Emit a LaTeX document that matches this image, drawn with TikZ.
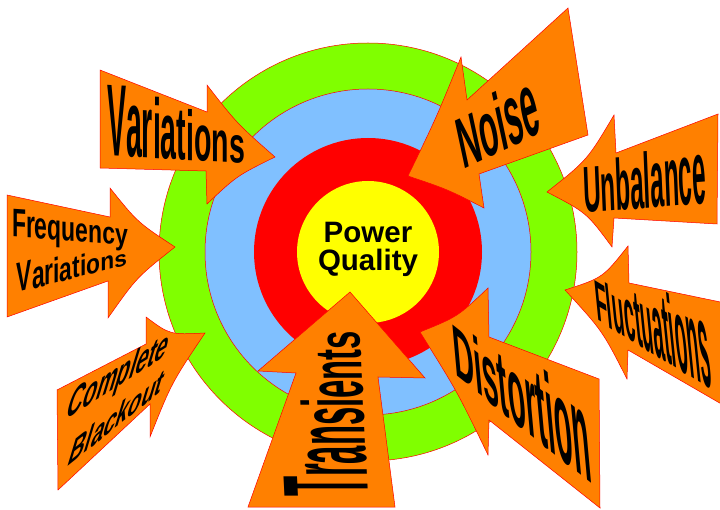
\documentclass[tikz,border=0pt]{standalone}
\usepackage{fontspec}
\setmainfont{Liberation Sans}
\usetikzlibrary{calc}
\definecolor{pqorange}{HTML}{FF8000}
\definecolor{pqgreen}{HTML}{80FF00}
\definecolor{pqblue}{HTML}{80C0FF}
\definecolor{pqred}{HTML}{FF0000}
\definecolor{pqyellow}{HTML}{FFFF00}
\newcommand\pwfont{\bfseries\fontsize{10}{12}\selectfont}
\newcount\pwacc
\newcount\pwtot
\def\pwname{w}
% #1 letter/width list, #2 #3 baseline start (px), #4 #5 baseline end, #6 #7 cap height start/end, #8 #9 up vector (px frame)
\newcommand\pword[9]{%
  \global\pwtot=0
  \foreach \pwl/\pww in {#1}{\global\advance\pwtot by \pww\relax}%
  \global\pwacc=0
  \foreach \pwl/\pww [count=\pwi] in {#1}{%
    \pgfmathsetmacro\pwt{(\the\pwacc+0.5*\pww)/\the\pwtot}%
    \pgfmathsetmacro\pwx{#2+\pwt*(#4-(#2))}%
    \pgfmathsetmacro\pwy{#3+\pwt*(#5-(#3))}%
    \pgfmathsetmacro\pwh{(#6+\pwt*(#7-(#6)))/7.16}%
    \pgfmathsetmacro\pwa{(#4-(#2))/(\the\pwtot/100)}%
    \pgfmathsetmacro\pwb{-(#5-(#3))/(\the\pwtot/100)}%
    \pgfmathsetmacro\pwc{(#8)*\pwh}%
    \pgfmathsetmacro\pwd{-(#9)*\pwh}%
    \begin{scope}[cm={\pwa,\pwb,\pwc,\pwd,(\pwx,\pwy)}]
      \node[inner sep=0pt, anchor=base, transform shape, font=\pwfont, text=black] (\pwname-\pwi) at (0,0) {\pwl};
    \end{scope}%
    \global\advance\pwacc by \pww\relax
  }%
}
% #1 tip, #2 headA, #3 notchA, #4 tailA, #5 tailB, #6 notchB, #7 headB, #8 bend
\newcommand\pqarrow[8]{%
  \filldraw[arr] (#2) .. controls ($($(#2)!.5!(#1)$)!#8!($(#3)!.5!(#6)$)$) .. (#1)
    .. controls ($($(#7)!.5!(#1)$)!#8!($(#3)!.5!(#6)$)$) .. (#7)
    -- (#6) -- (#5) -- (#4) -- (#3) -- cycle;}
\begin{document}
\begin{tikzpicture}[x=1pt,y=-1pt,
  arr/.style={fill=pqorange, draw=pqred, line width=0.5pt, line join=miter},
  ring/.style={circle, draw=pqred, line width=0.5pt, inner sep=0pt}]
\useasboundingbox (0,0) rectangle (720,510);
\fill[white] (0,0) rectangle (720,510);
% rings
\node[ring, fill=pqgreen, minimum size=418pt] (ringgreen) at (368,252) {};
\node[ring, fill=pqblue, minimum size=326pt] (ringblue) at (368,252) {};
\node[ring, draw=none, fill=pqred, minimum size=228pt] (ringred) at (368,252) {};
\node[ring, draw=none, fill=pqyellow, minimum size=142pt] (ringyellow) at (368,252) {};
\node[font=\bfseries\fontsize{29.5}{30}\selectfont, anchor=base, inner sep=0pt] (power) at (368,243) {Power};
\node[font=\bfseries\fontsize{29.5}{30}\selectfont, anchor=base, inner sep=0pt] (quality) at (368,271) {Quality};
% arrows
\pqarrow{275,157}{207,85}{207,112}{100,70}{100,168}{206,171}{207,204}{0.12}
\pqarrow{175,247}{110,188}{110,217}{7,195}{7,317}{108,281}{108,318}{0.15}
\pqarrow{205,333}{146,317}{146,344}{57,390}{58,490}{150,404}{150,437}{0.2}
\pqarrow{350,292}{258,371}{296,373}{248,507}{395,507}{378,377}{425,378}{0}
\pqarrow{420,332}{488,288}{489,337}{599,379}{600,508}{489,420}{488,455}{0.1}
\pqarrow{565,290}{628,246}{629,283}{730,304}{730,409}{628,350}{627,379}{0.2}
\pqarrow{547,192}{614,115}{616,153}{718,114}{717,224}{614,218}{612,247}{0.2}
\pqarrow{408,176}{461,57}{467,100}{568,8}{588,135}{479,174}{484,208}{0.05}
% texts
\def\pwname{variations}
\pword{V/667,a/556,r/389,i/278,a/556,t/333,i/278,o/611,n/611,s/556}{107}{156}{245}{163}{76}{34}{0}{-1}
\def\pwname{frequency}
\pword{F/611,r/389,e/556,q/611,u/611,e/556,n/611,c/556,y/556}{12}{237}{128}{245}{29}{21}{0}{-1}
\def\pwname{fvariations}
\pword{V/667,a/556,r/389,i/278,a/556,t/333,i/278,o/611,n/611,s/556}{17}{293}{127}{265}{31}{15}{0}{-1}
\def\pwname{complete}
\pword{C/722,o/611,m/889,p/611,l/278,e/556,t/333,e/556}{65}{420}{165}{357}{34}{30}{0.29}{-0.96}
\def\pwname{blackout}
\pword{B/722,l/278,a/556,c/556,k/556,o/611,u/611,t/333}{67}{467}{160}{393}{30}{27}{0.29}{-0.96}
\def\pwname{transients}
\pword{T/611,r/389,a/556,n/611,s/556,i/278,e/556,n/611,t/333,s/556}{368}{497}{360}{331}{90}{40}{-1}{0}
\def\pwname{distortion}
\pword{D/722,i/278,s/556,t/333,o/611,r/389,t/333,i/278,o/611,n/611}{455}{375}{593}{485}{50}{95}{-0.09}{-0.996}
\def\pwname{noise}
\pword{N/722,o/611,i/278,s/556,e/556}{463}{170}{543}{132}{48}{66}{-0.21}{-0.98}
\def\pwname{unbalance}
\pword{U/722,n/611,b/611,a/556,l/278,a/556,n/611,c/556,e/556}{584}{213}{707}{203}{45}{66}{-0.04}{-1}
\def\pwname{fluctuations}
\pword{F/611,l/278,u/611,c/556,t/333,u/611,a/556,t/333,i/278,o/611,n/611,s/556}{597}{320}{713}{390}{39}{90}{-0.1}{-0.995}
\end{tikzpicture}
\end{document}
